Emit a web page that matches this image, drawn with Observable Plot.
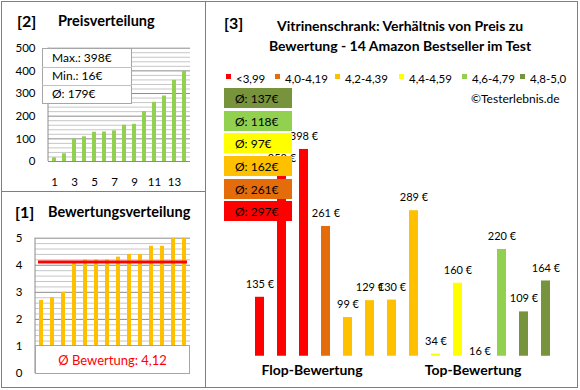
<!DOCTYPE html>
<html><head><meta charset="utf-8">
<script src="https://cdn.jsdelivr.net/npm/d3@7"></script>
<script src="https://cdn.jsdelivr.net/npm/@observablehq/plot@0.6"></script>
<style>
body{margin:0;background:#fff;font-family:Lato,"Open Sans",sans-serif;color:#000;}
#root{position:relative;width:580px;height:390px;overflow:hidden;background:#fff;}
.abs{position:absolute;white-space:nowrap;line-height:1;}
.ln{position:absolute;background:#7f7f7f;}
.panel{position:absolute;}
.box{position:absolute;box-sizing:border-box;background:#fff;border:1px solid #a6a6a6;}
.avg{position:absolute;box-sizing:border-box;display:flex;align-items:center;font-size:12px;padding-left:11px;}
</style></head><body><div id="root"></div>
<script>
// ---- data (order of panel [3]: flop -> top) ----
const prices  = [135, 358, 398, 261, 99, 129, 130, 289, 34, 160, 16, 220, 109, 164];
const ratings = [2.7, 2.8, 3.0, 4.1, 4.2, 4.2, 4.2, 4.3, 4.4, 4.4, 4.7, 4.7, 5.0, 5.0];
const groupLabels = ["<3,99", "4,0-4,19", "4,2-4,39", "4,4-4,59", "4,6-4,79", "4,8-5,0"];
const groupColors = ["#ff0000", "#e46c0a", "#ffc000", "#ffff00", "#92d050", "#77933c"];
const groupThresholds = [4.0, 4.2, 4.4, 4.6, 4.8];
const priceTicks = [0, 100, 200, 300, 400, 500];
const ratingTicks = [0, 1, 2, 3, 4, 5];
const rankLabels = [1, 3, 5, 7, 9, 11, 13];
const sectionLabels = ["Flop-Bewertung", "Top-Bewertung"];
const titleLines = ["Vitrinenschrank: Verhältnis von Preis zu", "Bewertung - 14 Amazon Bestseller im Test"];

const root = document.getElementById("root");
const fmt = v => String(v).replace(".", ",");
function add(html, css, cls = "abs") {
  const d = document.createElement("div");
  d.className = cls; d.innerHTML = html; Object.assign(d.style, css); root.appendChild(d); return d;
}
function txt(s, left, cy, size, bold, extra = {}) {
  return add(s, Object.assign({left: left + "px", top: cy + "px", transform: "translateY(-50%)", fontSize: size + "px", fontWeight: bold ? "bold" : "normal"}, extra));
}
function mount(svg, left, top, z = 1) {
  const w = document.createElement("div"); w.className = "panel";
  Object.assign(w.style, {left: left + "px", top: top + "px", zIndex: z});
  w.appendChild(svg); root.appendChild(w);
}
const products = prices.map((p, i) => {
  const g = d3.bisectRight(groupThresholds, ratings[i]);
  return {idx: i + 1, price: p, rating: ratings[i], group: groupLabels[g], gi: g};
});
const baseStyle = {fontFamily: "Lato", fontSize: "11.5px", color: "#000", background: "transparent", overflow: "visible"};
function leftLine(stroke) {
  return (index, scales, values, dim) => {
    const l = document.createElementNS("http://www.w3.org/2000/svg", "line");
    l.setAttribute("x1", dim.marginLeft); l.setAttribute("x2", dim.marginLeft);
    l.setAttribute("y1", dim.marginTop); l.setAttribute("y2", dim.height - dim.marginBottom);
    l.setAttribute("stroke", stroke); return l;
  };
}

// ---- frame lines ----
add("", {left: "1px", top: "1px", width: "577px", height: "1px"}, "ln");
add("", {left: "1px", top: "387px", width: "577px", height: "1px"}, "ln");
add("", {left: "1px", top: "1px", width: "1px", height: "387px"}, "ln");
add("", {left: "577px", top: "1px", width: "1px", height: "387px"}, "ln");
add("", {left: "205px", top: "1px", width: "1px", height: "387px"}, "ln");
add("", {left: "1px", top: "191px", width: "205px", height: "1px"}, "ln");

// ---- panel [2] Preisverteilung ----
const sortedPrices = prices.slice().sort(d3.ascending).map((v, i) => ({rank: i + 1, price: v}));
mount(Plot.plot({
  width: 205, height: 191, marginLeft: 48, marginRight: 15, marginTop: 46.7, marginBottom: 31,
  style: baseStyle,
  x: {type: "band", domain: d3.range(1, 15), paddingInner: 0.6, paddingOuter: 0.3, tickSize: 0, tickPadding: 16,
      tickFormat: d => rankLabels.includes(d) ? d : "", label: null},
  y: {domain: [0, 500], ticks: priceTicks, tickFormat: "d", tickSize: 0, tickPadding: 13, label: null},
  marks: [
    Plot.ruleY(d3.range(20, 500, 20).filter(v => v % 100), {stroke: "#c6c6c6"}),
    Plot.ruleY(priceTicks, {stroke: "#8c8c8c"}),
    leftLine("#8c8c8c"),
    Plot.barY(sortedPrices, {x: "rank", y: "price", fill: "#92d050"})
  ]
}), 0, 1);
txt("[2]", 17, 21, 16, true);
txt("Preisverteilung", 58, 21, 14.5, true);
const ib = add("", {left: "42px", top: "48px", width: "90px", height: "56px"}, "box");
ib.style.zIndex = 3;
[["Max.: " + d3.max(prices) + "€", 58], ["Min.: " + d3.min(prices) + "€", 76], ["Ø: " + Math.round(d3.mean(prices)) + "€", 94]]
  .forEach(([s, cy]) => { const t = txt(s, 52, cy, 12, false); t.style.zIndex = 4; });
add("", {left: "42px", top: "67px", width: "90px", height: "1px", background: "#c0c0c0", zIndex: 4}, "abs");
add("", {left: "42px", top: "85px", width: "90px", height: "1px", background: "#c0c0c0", zIndex: 4}, "abs");

// ---- panel [1] Bewertungsverteilung ----
const sortedRatings = ratings.slice().sort(d3.ascending).map((v, i) => ({rank: i + 1, rating: v}));
const avgRating = d3.mean(ratings);
mount(Plot.plot({
  width: 205, height: 196, marginLeft: 35, marginRight: 15, marginTop: 45.7, marginBottom: 15,
  style: baseStyle,
  x: {type: "band", domain: d3.range(1, 15), paddingInner: 0.6, paddingOuter: 0.3, axis: null},
  y: {domain: [0, 5], ticks: ratingTicks, tickFormat: "d", tickSize: 0, tickPadding: 13, label: null},
  marks: [
    Plot.ruleY(d3.range(0.2, 5, 0.2).filter(v => Math.abs(v - Math.round(v)) > 0.01), {stroke: "#c6c6c6"}),
    Plot.ruleY(ratingTicks, {stroke: "#8c8c8c"}),
    leftLine("#8c8c8c"),
    Plot.barY(sortedRatings, {x: "rank", y: "rating", fill: "#ffc000"}),
    Plot.ruleY([avgRating], {stroke: "#ff0000", strokeWidth: 3, insetLeft: 3, insetRight: 3})
  ]
}), 0, 192);
txt("[1]", 15, 212, 16, true);
txt("Bewertungsverteilung", 48, 212, 14.5, true);
const rb = add("", {left: "35px", top: "345px", width: "155px", height: "29px", display: "flex", alignItems: "center", justifyContent: "center", color: "#ff0000", fontSize: "13px", zIndex: 3}, "box");
rb.textContent = "Ø Bewertung: " + fmt(avgRating.toFixed(2));

// ---- panel [3] Preis zu Bewertung ----
mount(Plot.plot({
  width: 372, height: 388, marginLeft: 33.4, marginRight: 11.6, marginTop: 35.4, marginBottom: 32.2,
  style: baseStyle,
  x: {type: "band", domain: products.map(d => d.idx), padding: 0.6, axis: null},
  y: {domain: [30, 600], axis: null},
  color: {domain: groupLabels, range: groupColors},
  marks: [
    Plot.barY(products, {x: "idx", y: "price", fill: "group", clip: true}),
    Plot.text(products, {x: "idx", y: "price", text: d => d.price + " €", dy: -13, fontSize: 11, fill: "#000"})
  ]
}), 206, 0);
txt("[3]", 224, 23, 16, true);
titleLines.forEach((s, i) => txt(s, 400, 26 + i * 20, 14, true, {transform: "translate(-50%,-50%)"}));
const legendLefts = [226, 275, 335, 399, 462, 520];
groupLabels.forEach((g, i) => {
  add("", {left: legendLefts[i] + "px", top: "74px", width: "5px", height: "5px", background: groupColors[i]}, "abs");
  txt(g, legendLefts[i] + 10, 79, 11.5, false);
});
txt("©Testerlebnis.de", 471, 99, 12, false);
// group averages, stacked top (best) to bottom (worst)
const avgTops = [88, 111, 133, 156, 179, 201];
groupLabels.slice().reverse().forEach((g, j) => {
  const gi = groupLabels.indexOf(g);
  const m = Math.round(d3.mean(products.filter(d => d.gi === gi), d => d.price));
  add("Ø: " + m + "€", {left: "224px", top: avgTops[j] + "px", width: "68px", height: "20px", background: groupColors[gi], zIndex: 5}, "avg");
});
txt(sectionLabels[0], 312, 370, 14, true, {transform: "translate(-50%,-50%)"});
txt(sectionLabels[1], 473, 370, 14, true, {transform: "translate(-50%,-50%)"});
</script></body></html>
